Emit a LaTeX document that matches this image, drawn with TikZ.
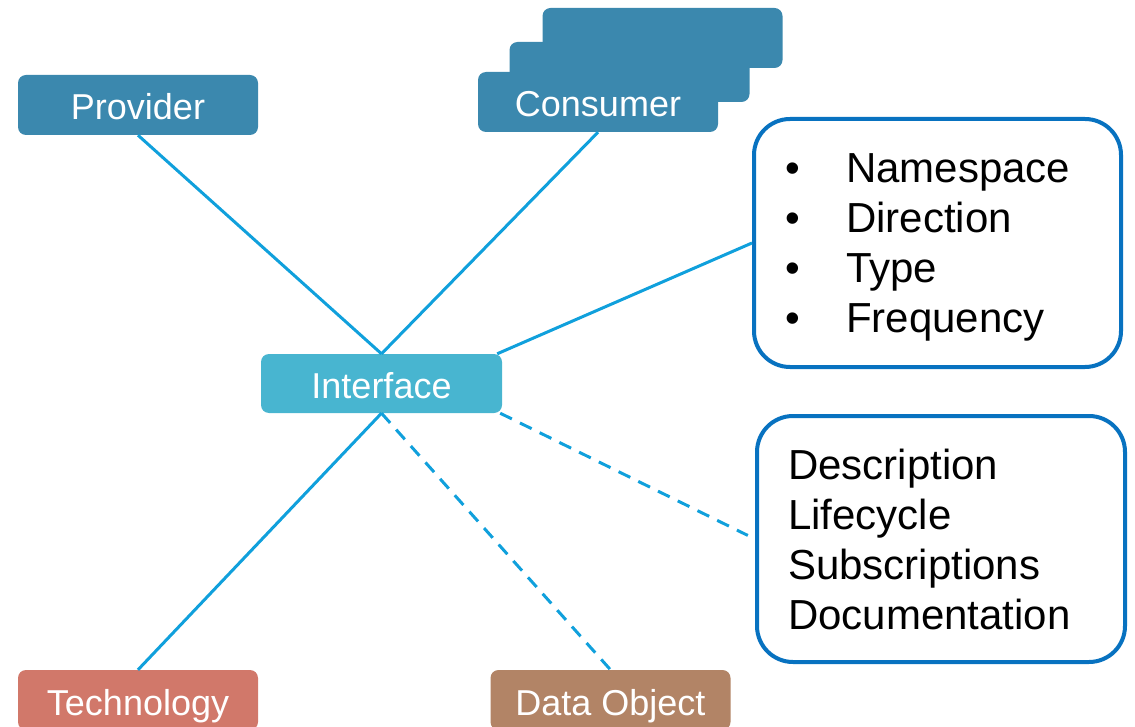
\documentclass[tikz,border=0pt]{standalone}
\usepackage{fontspec}
\setmainfont{Liberation Sans}
\definecolor{provblue}{RGB}{59,136,174}
\definecolor{intblue}{RGB}{72,181,208}
\definecolor{techred}{RGB}{209,120,106}
\definecolor{databrown}{RGB}{178,132,102}
\definecolor{linkblue}{RGB}{16,160,220}
\definecolor{boxblue}{RGB}{8,114,192}
\tikzset{
  tag/.style={rectangle, rounded corners=8pt, minimum width=240pt, minimum height=60pt,
    inner sep=0pt, text=white, font=\fontsize{36}{42}\selectfont,
    text height=30pt, text depth=0pt},
  infobox/.style={rectangle, rounded corners=36pt, draw=boxblue, line width=4pt, fill=white, inner sep=0pt},
  infotext/.style={anchor=base west, inner sep=0pt, font=\fontsize{42}{50}\selectfont},
  link/.style={draw=linkblue, line width=3pt},
  dlink/.style={draw=linkblue, line width=3pt, dash pattern=on 13pt off 9pt}
}
\begin{document}
\begin{tikzpicture}[x=1pt,y=-1pt]
\useasboundingbox (0,0) rectangle (1135,727);
% consumer stack
\node[tag, fill=provblue] (cons3) at (662.5,38) {};
\node[tag, fill=provblue] (cons2) at (629.5,72) {};
\node[tag, fill=provblue] (cons) at (598,102) {Consumer};
\node[tag, fill=provblue] (prov) at (138,105) {Provider};
\node[tag, fill=intblue, minimum width=241pt, minimum height=59pt] (intf) at (381.5,383.5) {Interface};
\node[tag, fill=techred] (tech) at (138,700) {Technology};
\node[tag, fill=databrown] (data) at (610.5,700) {Data Object};
% info boxes
\node[infobox, minimum width=367pt, minimum height=248pt] (box1) at (937.5,243) {};
\node[infotext] (b1txt) at (785,183) {\begin{tabular}[t]{@{}l@{}}
\makebox[61pt][l]{•}Namespace\\
\makebox[61pt][l]{•}Direction\\
\makebox[61pt][l]{•}Type\\
\makebox[61pt][l]{•}Frequency
\end{tabular}};
\node[infobox, minimum width=368pt, minimum height=246pt] (box2) at (941,539) {};
\node[infotext, font=\fontsize{42}{50.3}\selectfont] (b2txt) at (788,479) {\begin{tabular}[t]{@{}l@{}}
Description\\
Lifecycle\\
Subscriptions\\
Documentation
\end{tabular}};
% connectors
\draw[link] (prov.south) -- (intf.north);
\draw[link] (cons.south) -- (intf.north);
\draw[link] ([xshift=-5pt]intf.north east) -- (box1.west);
\draw[dlink, shorten >=8pt] ([xshift=-2pt]intf.south east) -- (box2.west);
\draw[link] (intf.south) -- (tech.north);
\draw[dlink] (intf.south) -- (data.north);
\end{tikzpicture}
\end{document}
